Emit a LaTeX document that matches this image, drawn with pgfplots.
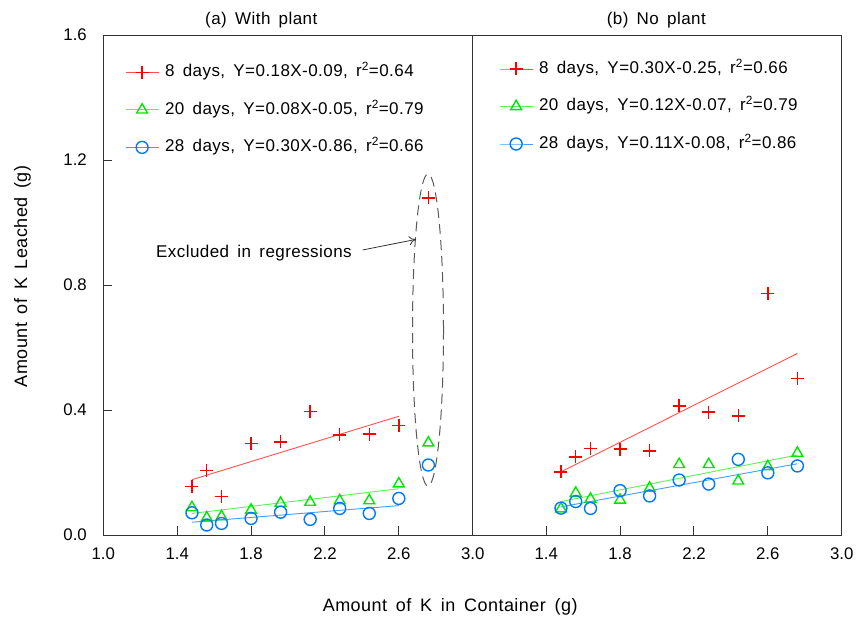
\documentclass[border=0pt]{standalone}
\usepackage{fontspec}
\setmainfont{Liberation Sans}[WordSpace=1.6, LetterSpace=2.6]
\newfontfamily\tickfont{Liberation Sans}
\usepackage{pgfplots}
\pgfplotsset{compat=1.18}
\usetikzlibrary{arrows.meta}
\definecolor{pred}{RGB}{255,0,0}
\definecolor{lred}{RGB}{255,80,80}
\definecolor{pgreen}{RGB}{0,230,0}
\definecolor{lgreen}{RGB}{90,240,90}
\definecolor{pblue}{RGB}{0,120,255}
\definecolor{lblue}{RGB}{70,155,255}
\newcommand{\fs}{\fontsize{17}{20}\selectfont}
\newcommand{\fl}{\fontsize{18}{21}\selectfont}

\pgfplotsset{
  legend image code/.code={\draw[mark repeat=2,mark phase=2,#1] plot coordinates {(0pt,0pt) (16.5pt,0pt) (33pt,0pt)};},
  panel/.style={
    scale only axis, width=369.4pt, height=500pt,
    xmin=1, xmax=3, ymin=0, ymax=1.6,
    axis line style={black!80, line width=0.9pt},
    every tick/.style={black!80, line width=0.9pt},
    major tick length=9pt, tick align=inside,
    xtick pos=lower, ytick pos=left,
    ticklabel style={font=\tickfont\fontsize{16.8}{19}\selectfont},
    xticklabel style={yshift=-9pt},
    yticklabel style={xshift=-13pt},
    /pgf/number format/assume math mode=true,
    /pgf/number format/fixed,
    /pgf/number format/fixed zerofill,
    /pgf/number format/precision=1,
    clip=false,
    legend cell align=left,
    legend style={draw=none, fill=none, inner sep=0pt, font=\fs, row sep=20.5pt,
      nodes={inner sep=0pt, text height=13pt, text depth=4pt},
      /tikz/every odd column/.style={column sep=6pt}},
  },
  s8/.style={only marks, mark=+, mark size=6.5pt, mark options={pred, line width=1.4pt}, forget plot},
  s20/.style={only marks, mark=triangle, mark size=6.2pt, mark options={pgreen, line width=1.4pt}, forget plot},
  s28/.style={only marks, mark=o, mark size=6pt, mark options={pblue, line width=1.4pt}, forget plot},
  l8/.style={lred, line width=0.9pt, no marks, forget plot},
  l20/.style={lgreen, line width=0.9pt, no marks, forget plot},
  l28/.style={lblue, line width=0.9pt, no marks, forget plot},
}

\begin{document}
\begin{tikzpicture}
\path[use as bounding box] (0,0) rectangle (857pt,616pt);

% ---------------- (a) With plant ----------------
\begin{axis}[panel, at={(103.3pt,81pt)}, anchor=south west,
  xtick={1.0,1.4,1.8,2.2,2.6,3.0},
  ytick={0,0.4,0.8,1.2,1.6},
  legend style={at={(0.0587,0.9426)}, anchor=north west}]
\addlegendimage{lred, line width=0.9pt, mark=+, mark size=6.5pt, mark options={pred, line width=1.4pt}}
\addlegendentry{8 days, Y=0.18X-0.09, r\textsuperscript{2}=0.64}
\addlegendimage{lgreen, line width=0.9pt, mark=triangle, mark size=6.2pt, mark options={pgreen, line width=1.4pt}}
\addlegendentry{20 days, Y=0.08X-0.05, r\textsuperscript{2}=0.79}
\addlegendimage{lblue, line width=0.9pt, mark=o, mark size=6pt, mark options={pblue, line width=1.4pt}}
\addlegendentry{28 days, Y=0.30X-0.86, r\textsuperscript{2}=0.66}

\addplot[l8] coordinates {(1.48,0.177) (2.60,0.380)};
\addplot[l20] coordinates {(1.48,0.069) (2.60,0.148)};
\addplot[l28] coordinates {(1.48,0.041) (2.60,0.094)};

\addplot[s20] table {
x y
1.48 0.088
1.56 0.055
1.64 0.059
1.80 0.080
1.96 0.102
2.12 0.105
2.28 0.110
2.44 0.110
2.60 0.164
2.76 0.295
};
\addplot[s28] table {
x y
1.48 0.071
1.56 0.032
1.64 0.037
1.80 0.053
1.96 0.073
2.12 0.050
2.28 0.085
2.44 0.069
2.60 0.117
2.76 0.224
};
\addplot[s8] table {
x y
1.48 0.155
1.56 0.206
1.64 0.123
1.80 0.293
1.96 0.298
2.12 0.395
2.28 0.320
2.44 0.323
2.60 0.350
2.76 1.079
};

\draw[black!65, line width=1pt, dash pattern=on 10pt off 6pt]
  (axis cs:2.758,0.656) ellipse [x radius=15.5pt, y radius=156pt];
\draw[black!80, line width=0.8pt, -{To[length=7pt,width=9pt]}]
  (axis cs:2.404,0.912) -- (axis cs:2.693,0.946);
\end{axis}

% ---------------- (b) No plant ----------------
\begin{axis}[panel, at={(472.3pt,81pt)}, anchor=south west,
  xtick={1.4,1.8,2.2,2.6,3.0},
  ytick=\empty,
  legend style={at={(0.0723,0.9494)}, anchor=north west}]
\addlegendimage{lred, line width=0.9pt, mark=+, mark size=6.5pt, mark options={pred, line width=1.4pt}}
\addlegendentry{8 days, Y=0.30X-0.25, r\textsuperscript{2}=0.66}
\addlegendimage{lgreen, line width=0.9pt, mark=triangle, mark size=6.2pt, mark options={pgreen, line width=1.4pt}}
\addlegendentry{20 days, Y=0.12X-0.07, r\textsuperscript{2}=0.79}
\addlegendimage{lblue, line width=0.9pt, mark=o, mark size=6pt, mark options={pblue, line width=1.4pt}}
\addlegendentry{28 days, Y=0.11X-0.08, r\textsuperscript{2}=0.86}

\addplot[l8] coordinates {(1.48,0.202) (2.76,0.581)};
\addplot[l20] coordinates {(1.48,0.107) (2.76,0.256)};
\addplot[l28] coordinates {(1.48,0.090) (2.76,0.228)};

\addplot[s20] table {
x y
1.48 0.084
1.56 0.134
1.64 0.115
1.80 0.112
1.96 0.150
2.12 0.226
2.28 0.226
2.44 0.173
2.60 0.219
2.76 0.262
};
\addplot[s28] table {
x y
1.48 0.086
1.56 0.107
1.64 0.085
1.80 0.142
1.96 0.125
2.12 0.176
2.28 0.163
2.44 0.242
2.60 0.199
2.76 0.221
};
\addplot[s8] table {
x y
1.48 0.202
1.56 0.250
1.64 0.277
1.80 0.275
1.96 0.269
2.12 0.413
2.28 0.393
2.44 0.381
2.60 0.773
2.76 0.501
};
\end{axis}

% titles and labels
\node[font=\fs, anchor=base, inner sep=0pt] at (261.3pt,591pt) {(a) With plant};
\node[font=\fs, anchor=base, inner sep=0pt] at (656.3pt,591pt) {(b) No plant};
\node[font=\fs, anchor=base west, inner sep=0pt] at (156pt,358.7pt) {Excluded in regressions};
\node[font=\fl, anchor=base, inner sep=0pt] at (450.2pt,4.5pt) {Amount of K in Container (g)};
\node[font=\fl, anchor=base, inner sep=0pt, rotate=90] at (27pt,339.5pt) {Amount of K Leached (g)};
\end{tikzpicture}
\end{document}
